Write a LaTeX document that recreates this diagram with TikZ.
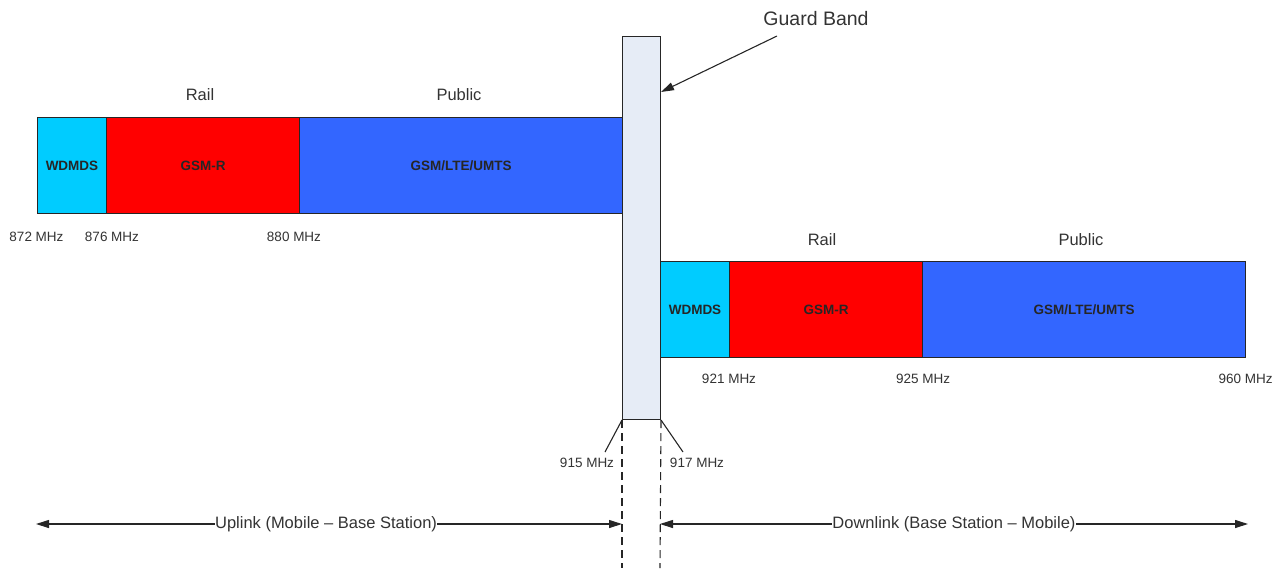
\documentclass[tikz,border=0pt]{standalone}
\usepackage{fontspec}
\setmainfont{Liberation Sans}
\usetikzlibrary{arrows.meta}
\definecolor{wcyan}{HTML}{00CCFF}
\definecolor{gred}{HTML}{FF0000}
\definecolor{pblue}{HTML}{3366FF}
\definecolor{guardfill}{HTML}{E6ECF6}
\definecolor{txt}{HTML}{333333}
\begin{document}
\begin{tikzpicture}[x=1pt,y=-1pt,
  band/.style={draw=black!85, line width=1pt, anchor=north west, inner sep=0pt,
    minimum height=96pt, font=\fontsize{13.5}{15}\selectfont\bfseries, text=black!85},
  lbl/.style={font=\fontsize{16.5}{19}\selectfont, text=txt, inner sep=1pt},
  freq/.style={font=\fontsize{13.5}{16}\selectfont, text=txt, inner sep=1pt},
  conn/.style={draw=black!85, line width=1.1pt},
  tip/.style={-{Triangle[length=13pt,width=8pt]}},
  both/.style={{Triangle[length=13pt,width=8pt]}-{Triangle[length=13pt,width=8pt]}}]
\useasboundingbox (0,0) rectangle (1282,568);

% Uplink bands
\node[band, fill=wcyan, minimum width=69pt] (uw) at (37,117) {WDMDS};
\node[band, fill=gred, minimum width=193pt] (ug) at (106,117) {GSM-R};
\node[band, fill=pblue, minimum width=323pt] (up) at (299,117) {GSM/LTE/UMTS};

% Guard band
\node[draw=black!85, line width=1pt, fill=guardfill, anchor=north west, inner sep=0pt,
  minimum width=38pt, minimum height=383pt] (gb) at (622,36) {};

% Downlink bands
\node[band, fill=wcyan, minimum width=69pt] (dw) at (660,261) {WDMDS};
\node[band, fill=gred, minimum width=193pt] (dg) at (729,261) {GSM-R};
\node[band, fill=pblue, minimum width=323pt] (dp) at (922,261) {GSM/LTE/UMTS};

% group labels
\node[lbl] (urail) at (200,95) {Rail};
\node[lbl] (upub) at (459,95) {Public};
\node[lbl] (drail) at (822,240) {Rail};
\node[lbl] (dpub) at (1081,240) {Public};

% frequency labels
\node[freq] (f872) at (36.5,237) {872 MHz};
\node[freq] (f876) at (112,237) {876 MHz};
\node[freq] (f880) at (294,237) {880 MHz};
\node[freq] (f921) at (729,379) {921 MHz};
\node[freq] (f925) at (923,379) {925 MHz};
\node[freq] (f960) at (1245.5,379) {960 MHz};
\node[freq] (f915) at (587,463) {915 MHz};
\node[freq] (f917) at (697,463) {917 MHz};

% Guard band label
\node[font=\fontsize{19.5}{22}\selectfont, text=txt, inner sep=1pt] (gbl) at (816,19) {Guard Band};
\coordinate (gbs) at (777,36);
\draw[conn, tip] (gbs) -- (gb.east |- 0,92);

% leader lines
\coordinate (l915) at (605,452);
\coordinate (l917) at (683,452);
\draw[conn] (gb.south west) -- (l915);
\draw[conn] (gb.south east) -- (l917);

% dashed boundary lines
\coordinate (dl) at (622,568);
\coordinate (dr) at (660,568);
\draw[conn, dash pattern=on 8pt off 5pt] (gb.south west) -- (dl);
\draw[conn, dash pattern=on 8pt off 5pt] (gb.south east) -- (dr);

% direction arrows
\coordinate (ul) at (36,524);
\coordinate (ur) at (622,524);
\coordinate (dlft) at (660,524);
\coordinate (drt) at (1248,524);
\draw[conn, both] (ul) -- node[pos=0.495, fill=white, lbl, inner sep=0pt] (uptxt) {Uplink (Mobile -- Base Station)} (ur);
\draw[conn, both] (dlft) -- node[fill=white, lbl, inner sep=0pt] (dntxt) {Downlink (Base Station -- Mobile)} (drt);
\end{tikzpicture}
\end{document}
